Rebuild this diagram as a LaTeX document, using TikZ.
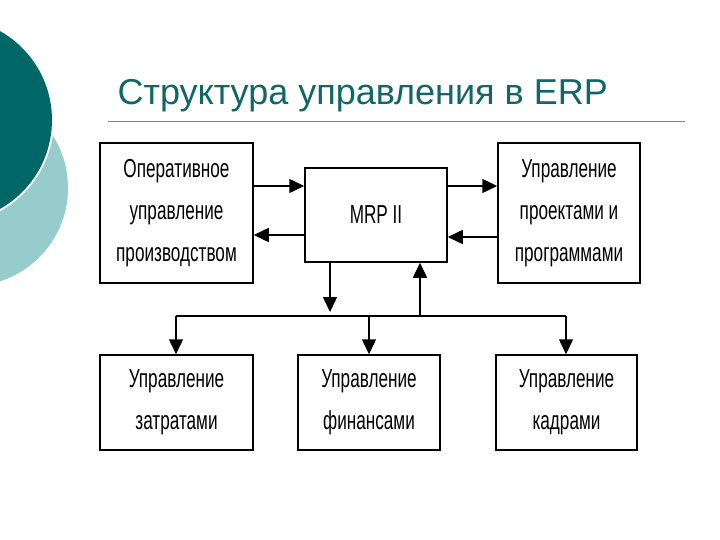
\documentclass[tikz,border=0pt]{standalone}
\usepackage{fontspec}
\setmainfont{Liberation Sans}
\newfontfamily\narrowfont[FakeStretch=0.66]{Liberation Sans}
\usetikzlibrary{arrows.meta}
\definecolor{titleteal}{RGB}{18,102,102}
\definecolor{darkteal}{RGB}{0,102,102}
\definecolor{lightteal}{RGB}{150,204,204}

\tikzset{
  block/.style={draw,line width=1.5pt,align=center,inner sep=0pt,
    font=\narrowfont\fontsize{26}{42}\selectfont},
  link/.style={line width=1.5pt,-{Triangle[length=15pt,width=14pt]}},
  bus/.style={line width=1.5pt}
}

\begin{document}
\begin{tikzpicture}[x=1pt,y=-1pt]
  \useasboundingbox (0,0) rectangle (720,540);

  % decoration on the left
  \fill[lightteal] (-30,188) circle (98);
  \fill[white] (-50,120) circle (104);
  \fill[darkteal] (-50,120) circle (102);

  % title
  \node[anchor=base west,text=titleteal,font=\fontsize{36}{40}\selectfont] (title) at (114,105) {Структура управления в ERP};
  \draw[gray,line width=0.6pt] (108,121) -- (685,121);

  % blocks
  \node[block,minimum width=153,minimum height=140] (oper) at (176.5,213) {Оперативное\\управление\\производством};
  \node[block,minimum width=142,minimum height=94] (mrp) at (376,215) {MRP II};
  \node[block,minimum width=142,minimum height=140] (proj) at (569,213) {Управление\\проектами и\\программами};
  \node[block,minimum width=153,minimum height=95] (cost) at (176.5,402.5) {Управление\\затратами};
  \node[block,minimum width=142,minimum height=95] (fin) at (369,402.5) {Управление\\финансами};
  \node[block,minimum width=141,minimum height=95] (staff) at (566.5,402.5) {Управление\\кадрами};

  % links between the upper blocks
  \draw[link] (oper.east|-0,186) -- (mrp.west|-0,186);
  \draw[link] (mrp.west|-0,235) -- (oper.east|-0,235);
  \draw[link] (mrp.east|-0,186) -- (proj.west|-0,186);
  \draw[link] (proj.west|-0,237) -- (mrp.east|-0,237);

  % bus to the lower blocks
  \coordinate (busL) at (176,316);
  \coordinate (busR) at (566,316);
  \coordinate (down) at (330,316);
  \coordinate (up) at (420,316);
  \draw[bus] (busL) -- (busR);
  \draw[link] (mrp.south-|down) -- (330,312);
  \draw[link] (up) -- (mrp.south-|up);
  \draw[link] (busL) -- (cost.north-|busL);
  \draw[link] (369,316) -- (fin.north);
  \draw[link] (busR) -- (staff.north-|busR);
\end{tikzpicture}
\end{document}
